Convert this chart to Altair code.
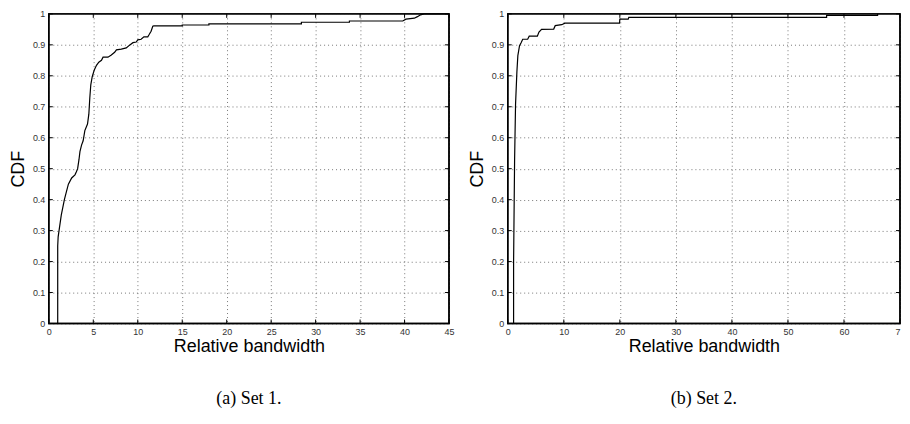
import altair as alt
import pandas as pd

# ---- data ----
set1_x = [1.0, 1.0, 1.05, 1.15, 1.4, 1.75, 1.93, 2.2, 2.57, 2.94, 3.1, 3.24, 3.39, 3.5, 3.68,
          3.86, 4.05, 4.35, 4.5, 4.61, 4.72, 4.88, 5.1, 5.36, 5.62, 5.92, 6.1, 6.65, 7.03, 7.4,
          7.6, 8.15, 8.71, 9.08, 9.46, 9.83, 10.0, 10.38, 10.69, 11.13, 11.3, 11.5, 11.69, 11.8,
          15.0, 15.0, 18.0, 18.0, 28.4, 28.4, 33.8, 33.8, 39.8, 40.16, 41.1, 41.45, 41.8, 42.2, 45.0]
set1_y = [0.0, 0.25, 0.28, 0.30, 0.35, 0.40, 0.42, 0.45, 0.47, 0.48, 0.49, 0.50, 0.529, 0.555, 0.576,
          0.59, 0.623, 0.644, 0.676, 0.729, 0.771, 0.797, 0.818, 0.834, 0.844, 0.85, 0.86, 0.86, 0.867, 0.876,
          0.884, 0.886, 0.89, 0.899, 0.907, 0.909, 0.916, 0.918, 0.926, 0.926, 0.934, 0.944, 0.96, 0.961,
          0.961, 0.964, 0.964, 0.968, 0.968, 0.973, 0.973, 0.977, 0.977, 0.983, 0.986, 0.991, 0.997, 1.0, 1.0]

set2_x = [1.04, 1.04, 1.22, 1.39, 1.63, 1.8, 2.1, 2.38, 2.67, 3.55, 3.83, 5.28, 5.57, 6.03, 8.2,
          8.47, 9.63, 10.2, 19.95, 20.0, 21.5, 21.6, 56.9, 56.9, 66.0, 66.0]
set2_y = [0.0, 0.2, 0.53, 0.708, 0.813, 0.865, 0.897, 0.907, 0.918, 0.918, 0.928, 0.928, 0.941, 0.95, 0.951,
          0.962, 0.965, 0.97, 0.97, 0.983, 0.983, 0.989, 0.989, 0.995, 0.995, 1.0]

xticks_set1 = [0, 5, 10, 15, 20, 25, 30, 35, 40, 45]
xticks_set2 = [0, 10, 20, 30, 40, 50, 60, 70]
yticks = [0, 0.1, 0.2, 0.3, 0.4, 0.5, 0.6, 0.7, 0.8, 0.9, 1]
captions = ["(a) Set 1.", "(b) Set 2."]
x_title = "Relative bandwidth"
y_title = "CDF"

W_LEFT = 402
W_RIGHT = 394
H = 311
TICK = 4


def panel(xs, ys, xticks, caption, width, cut_last=False):
    df = pd.DataFrame({"x": xs, "y": ys, "order": list(range(len(xs)))})
    xscale = alt.Scale(domain=[xticks[0], xticks[-1]], nice=False, zero=False)
    yscale = alt.Scale(domain=[0, 1], nice=False)
    xaxis_kw = dict(values=xticks, title=x_title, grid=True, ticks=False, domain=False,
                    labelPadding=4, titlePadding=1, labelFlush=False)
    if cut_last:
        last = xticks[-1]
        xaxis_kw["labelExpr"] = f"datum.value == {last} ? '7' : datum.label"
        xaxis_kw["labelAlign"] = {"condition": {"test": f"datum.value == {last}", "value": "right"},
                                  "value": "center"}
    xaxis = alt.Axis(**xaxis_kw)
    yaxis = alt.Axis(values=yticks, title=y_title, grid=True, ticks=False, domain=False,
                     labelPadding=4, titlePadding=5, format="~g", labelFlush=False)

    line = alt.Chart(df).mark_line(color="black", strokeWidth=1.2).encode(
        x=alt.X("x:Q", scale=xscale, axis=xaxis, title=x_title),
        y=alt.Y("y:Q", scale=yscale, axis=yaxis, title=y_title),
        order="order:Q",
    )
    xt = pd.DataFrame({"x": xticks})
    yt = pd.DataFrame({"y": yticks})
    bottom = alt.Chart(xt).mark_rule(color="black", strokeWidth=1).encode(
        x=alt.X("x:Q", scale=xscale, axis=xaxis, title=x_title), y=alt.value(H), y2=alt.value(H - TICK))
    top = alt.Chart(xt).mark_rule(color="black", strokeWidth=1).encode(
        x=alt.X("x:Q", scale=xscale, axis=xaxis, title=x_title), y=alt.value(0), y2=alt.value(TICK))
    left = alt.Chart(yt).mark_rule(color="black", strokeWidth=1).encode(
        y=alt.Y("y:Q", scale=yscale, axis=yaxis, title=y_title), x=alt.value(0), x2=alt.value(TICK))
    right = alt.Chart(yt).mark_rule(color="black", strokeWidth=1).encode(
        y=alt.Y("y:Q", scale=yscale, axis=yaxis, title=y_title), x=alt.value(width - TICK), x2=alt.value(width))
    frame = alt.Chart(pd.DataFrame({"f": [caption]})).mark_rect(
        fill=None, stroke="black", strokeWidth=1.5
    ).encode(x=alt.value(0), x2=alt.value(width), y=alt.value(0), y2=alt.value(H))

    return alt.layer(line, bottom, top, left, right, frame).properties(
        width=width, height=H,
        title=alt.TitleParams(caption, orient="bottom", font="Liberation Serif", fontSize=18,
                              fontWeight="normal", color="black", anchor="middle",
                              frame="group", offset=35),
    )


p1 = panel(set1_x, set1_y, xticks_set1, captions[0], W_LEFT)
p2 = panel(set2_x, set2_y, xticks_set2, captions[1], W_RIGHT, cut_last=True)

chart = alt.hconcat(p1, p2, spacing=12).properties(
    padding={"left": 0, "top": 0, "right": 0, "bottom": 0},
    background="white",
).configure_view(
    stroke="black", strokeWidth=1.5
).configure_axis(
    labelFont="Liberation Sans", labelFontSize=9, labelColor="#333",
    titleFont="Liberation Sans", titleFontSize=18, titleFontWeight="normal", titleColor="black",
    gridColor="#777", gridDash=[1, 3], gridWidth=1, gridOpacity=1,
)

chart.save("out.html", embed_options={"renderer": "svg", "actions": False})
